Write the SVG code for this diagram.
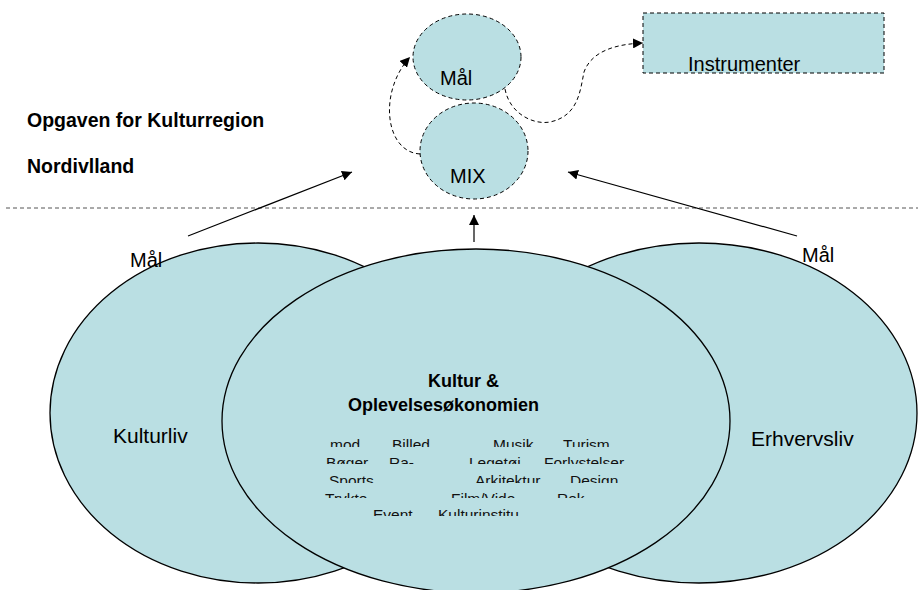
<svg xmlns="http://www.w3.org/2000/svg" width="918" height="590" viewBox="0 0 918 590">
<style>
.big{fill:#badfe3;stroke:#000;stroke-width:1.3}
.dsh{fill:#badfe3;stroke:#000;stroke-width:1;stroke-dasharray:4,3}
.t{font-family:"Liberation Sans",Arial,sans-serif;fill:#000}
.lbl{font-size:20px}
.sm{font-size:15.5px;fill:#111}
.b{font-weight:bold}
.ln{stroke:#000;stroke-width:1.2;fill:none}
.dl{stroke:#000;stroke-width:1;fill:none;stroke-dasharray:4,3}
</style>
<defs>
<marker id="ah" viewBox="0 0 10 10" refX="10" refY="5" markerWidth="10" markerHeight="10" markerUnits="userSpaceOnUse" orient="auto"><path d="M0,0 L10,5 L0,10 z" fill="#000"/></marker>
<clipPath id="c1"><rect x="300" y="430" width="360" height="17"/></clipPath>
<clipPath id="c2"><rect x="300" y="450" width="360" height="14"/></clipPath>
<clipPath id="c3"><rect x="300" y="468" width="360" height="15"/></clipPath>
<clipPath id="c4"><rect x="300" y="486" width="360" height="12"/></clipPath>
<clipPath id="c5"><rect x="300" y="502" width="360" height="14"/></clipPath>
</defs>
<line x1="6" y1="208" x2="918" y2="208" stroke="#555" stroke-width="1" stroke-dasharray="4,3"/>
<text class="t b" x="27" y="127" font-size="19.5">Opgaven for Kulturregion</text>
<text class="t b" x="27" y="173" font-size="19.5">Nordivlland</text>
<g id="kulturliv"><ellipse class="big" cx="258" cy="413" rx="208" ry="170"/><text class="t" x="113" y="443" font-size="21">Kulturliv</text></g>
<g id="erhvervsliv"><ellipse class="big" cx="699" cy="413" rx="218" ry="170"/><text class="t" x="751" y="446" font-size="21">Erhvervsliv</text></g>
<g id="kultur-oplevelse"><ellipse class="big" cx="476" cy="421" rx="254" ry="172"/>
<text class="t b" x="428" y="387" font-size="18">Kultur &amp;</text>
<text class="t b" x="348" y="411" font-size="18">Oplevelsesøkonomien</text>
<g class="t sm" clip-path="url(#c1)"><text x="330" y="450">mod</text><text x="392" y="450">Billed</text><text x="493" y="450">Musik</text><text x="563" y="450">Turism</text></g>
<g class="t sm" clip-path="url(#c2)"><text x="326" y="468">Bøger</text><text x="389" y="468">Ra-</text><text x="469" y="468">Legetøj</text><text x="544" y="468">Forlystelser</text></g>
<g class="t sm" clip-path="url(#c3)"><text x="329" y="486">Sports</text><text x="475" y="486">Arkitektur</text><text x="570" y="486">Design</text></g>
<g class="t sm" clip-path="url(#c4)"><text x="325" y="504">Trykte</text><text x="451" y="504">Film/Vide</text><text x="557" y="504">Rek</text></g>
<g class="t sm" clip-path="url(#c5)"><text x="373" y="520">Event</text><text x="438" y="520">Kulturinstitu</text></g>
</g>
<g id="maal-top"><ellipse class="dsh" cx="467" cy="57" rx="54" ry="43"/><text class="t lbl" x="440" y="85">Mål</text></g>
<g id="mix"><ellipse class="dsh" cx="474" cy="151" rx="54" ry="48"/><text class="t lbl" x="450" y="183">MIX</text></g>
<g id="instrumenter"><rect class="dsh" x="643" y="13" width="241" height="60"/><text class="t lbl" x="688" y="71">Instrumenter</text></g>
<g id="connectors">
<line class="ln" x1="188" y1="236" x2="352" y2="172" marker-end="url(#ah)"/>
<line class="ln" x1="797" y1="236" x2="568" y2="172" marker-end="url(#ah)"/>
<line class="ln" x1="474" y1="242" x2="474" y2="215" marker-end="url(#ah)"/>
<path class="dl" d="M420,154 C385,152 378,92 410,57" marker-end="url(#ah)"/>
<path class="dl" d="M505,89 C510,115 535,125 550,122 C578,116 580,92 584,72 C592,50 618,44 643,43" marker-end="url(#ah)"/>
</g>
<text class="t lbl" x="130" y="267">Mål</text>
<text class="t lbl" x="802" y="262">Mål</text>
</svg>
